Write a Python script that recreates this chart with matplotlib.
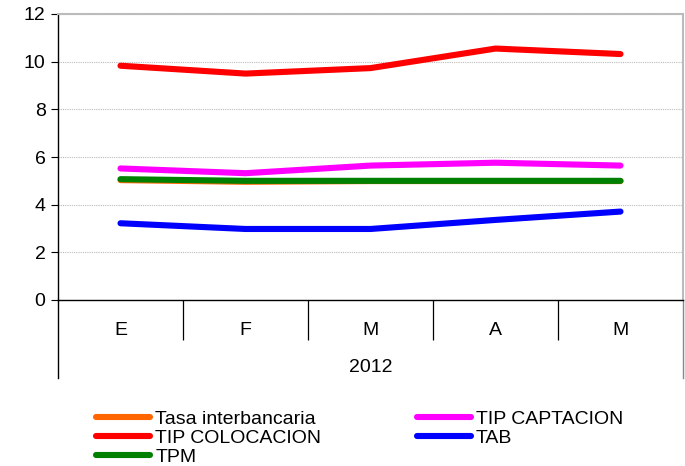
import numpy as np
import matplotlib.pyplot as plt
from matplotlib.lines import Line2D

plt.rcParams['font.family'] = ['Liberation Sans', 'DejaVu Sans']

# datos
meses = ["E", "F", "M", "A", "M"]
anio = "2012"
tasa_interbancaria = [5.03, 4.96, 4.99, 4.99, 4.99]
tip_captacion = [5.52, 5.32, 5.64, 5.76, 5.64]
tip_colocacion = [9.83, 9.50, 9.73, 10.55, 10.32]
tab = [3.22, 2.98, 2.98, 3.36, 3.71]
tpm = [5.07, 5.0, 5.0, 5.0, 5.0]

x = np.arange(len(meses))
fs = 14

fig = plt.figure(figsize=(6.85, 4.66), dpi=100)
ax = fig.add_axes([58/685, 1 - 300/466, 625/685, 286/466])

lw = 4.4
l_col, = ax.plot(x, tip_colocacion, color="#ff0000", lw=lw, solid_capstyle="round")
l_cap, = ax.plot(x, tip_captacion, color="#ff00ff", lw=lw, solid_capstyle="round")
l_int, = ax.plot(x, tasa_interbancaria, color="#ff6600", lw=lw, solid_capstyle="round")
l_tpm, = ax.plot(x, tpm, color="#008000", lw=lw, solid_capstyle="round")
l_tab, = ax.plot(x, tab, color="#0000ff", lw=lw, solid_capstyle="round")

ax.set_ylim(0, 12)
ax.set_yticks(range(0, 13, 2))
ax.set_xlim(-0.5, len(meses) - 0.5)
ax.yaxis.grid(True, linestyle=(0, (1, 1)), color="#bbbbbb", lw=0.8)
ax.set_axisbelow(True)

ax.spines["top"].set_color("#bbbbbb")
ax.spines["right"].set_color("#bbbbbb")
ax.spines["top"].set_linewidth(1.5)
ax.spines["right"].set_linewidth(1.5)
ax.spines["left"].set_linewidth(1.0)
ax.spines["bottom"].set_linewidth(1.0)

ax.tick_params(axis="y", labelsize=fs, length=5, direction="out", pad=4)
ax.set_xticks(x)
ax.set_xticklabels(meses, fontsize=fs)
ax.tick_params(axis="x", which="major", length=0, pad=16)
ax.set_xticks(np.arange(0.5, len(meses) - 1, 1), minor=True)
ax.tick_params(axis="x", which="minor", length=29, width=0.9, color="black")

# lineas de la categoria año
for xe in (0, 1):
    ax.add_line(Line2D([xe, xe], [0, -78/286], transform=ax.transAxes,
                       color="black" if xe == 0 else "#888888", lw=1.0, clip_on=False))
ax.text(0.5, -67/286, anio, transform=ax.transAxes, ha="center", va="center", fontsize=fs)

handles = [l_int, l_col, l_tpm, l_cap, l_tab]
labels = ["Tasa interbancaria", "TIP COLOCACION", "TPM", "TIP CAPTACION", "TAB"]
fig.legend(handles, labels, ncol=2, loc="upper left", bbox_to_anchor=(96/685, 1 - 410/466),
           frameon=False, fontsize=fs, handlelength=2.8, handletextpad=0.25,
           labelspacing=0.08, columnspacing=4.9, borderpad=0, borderaxespad=0)

fig.savefig("out.png", dpi=100)
